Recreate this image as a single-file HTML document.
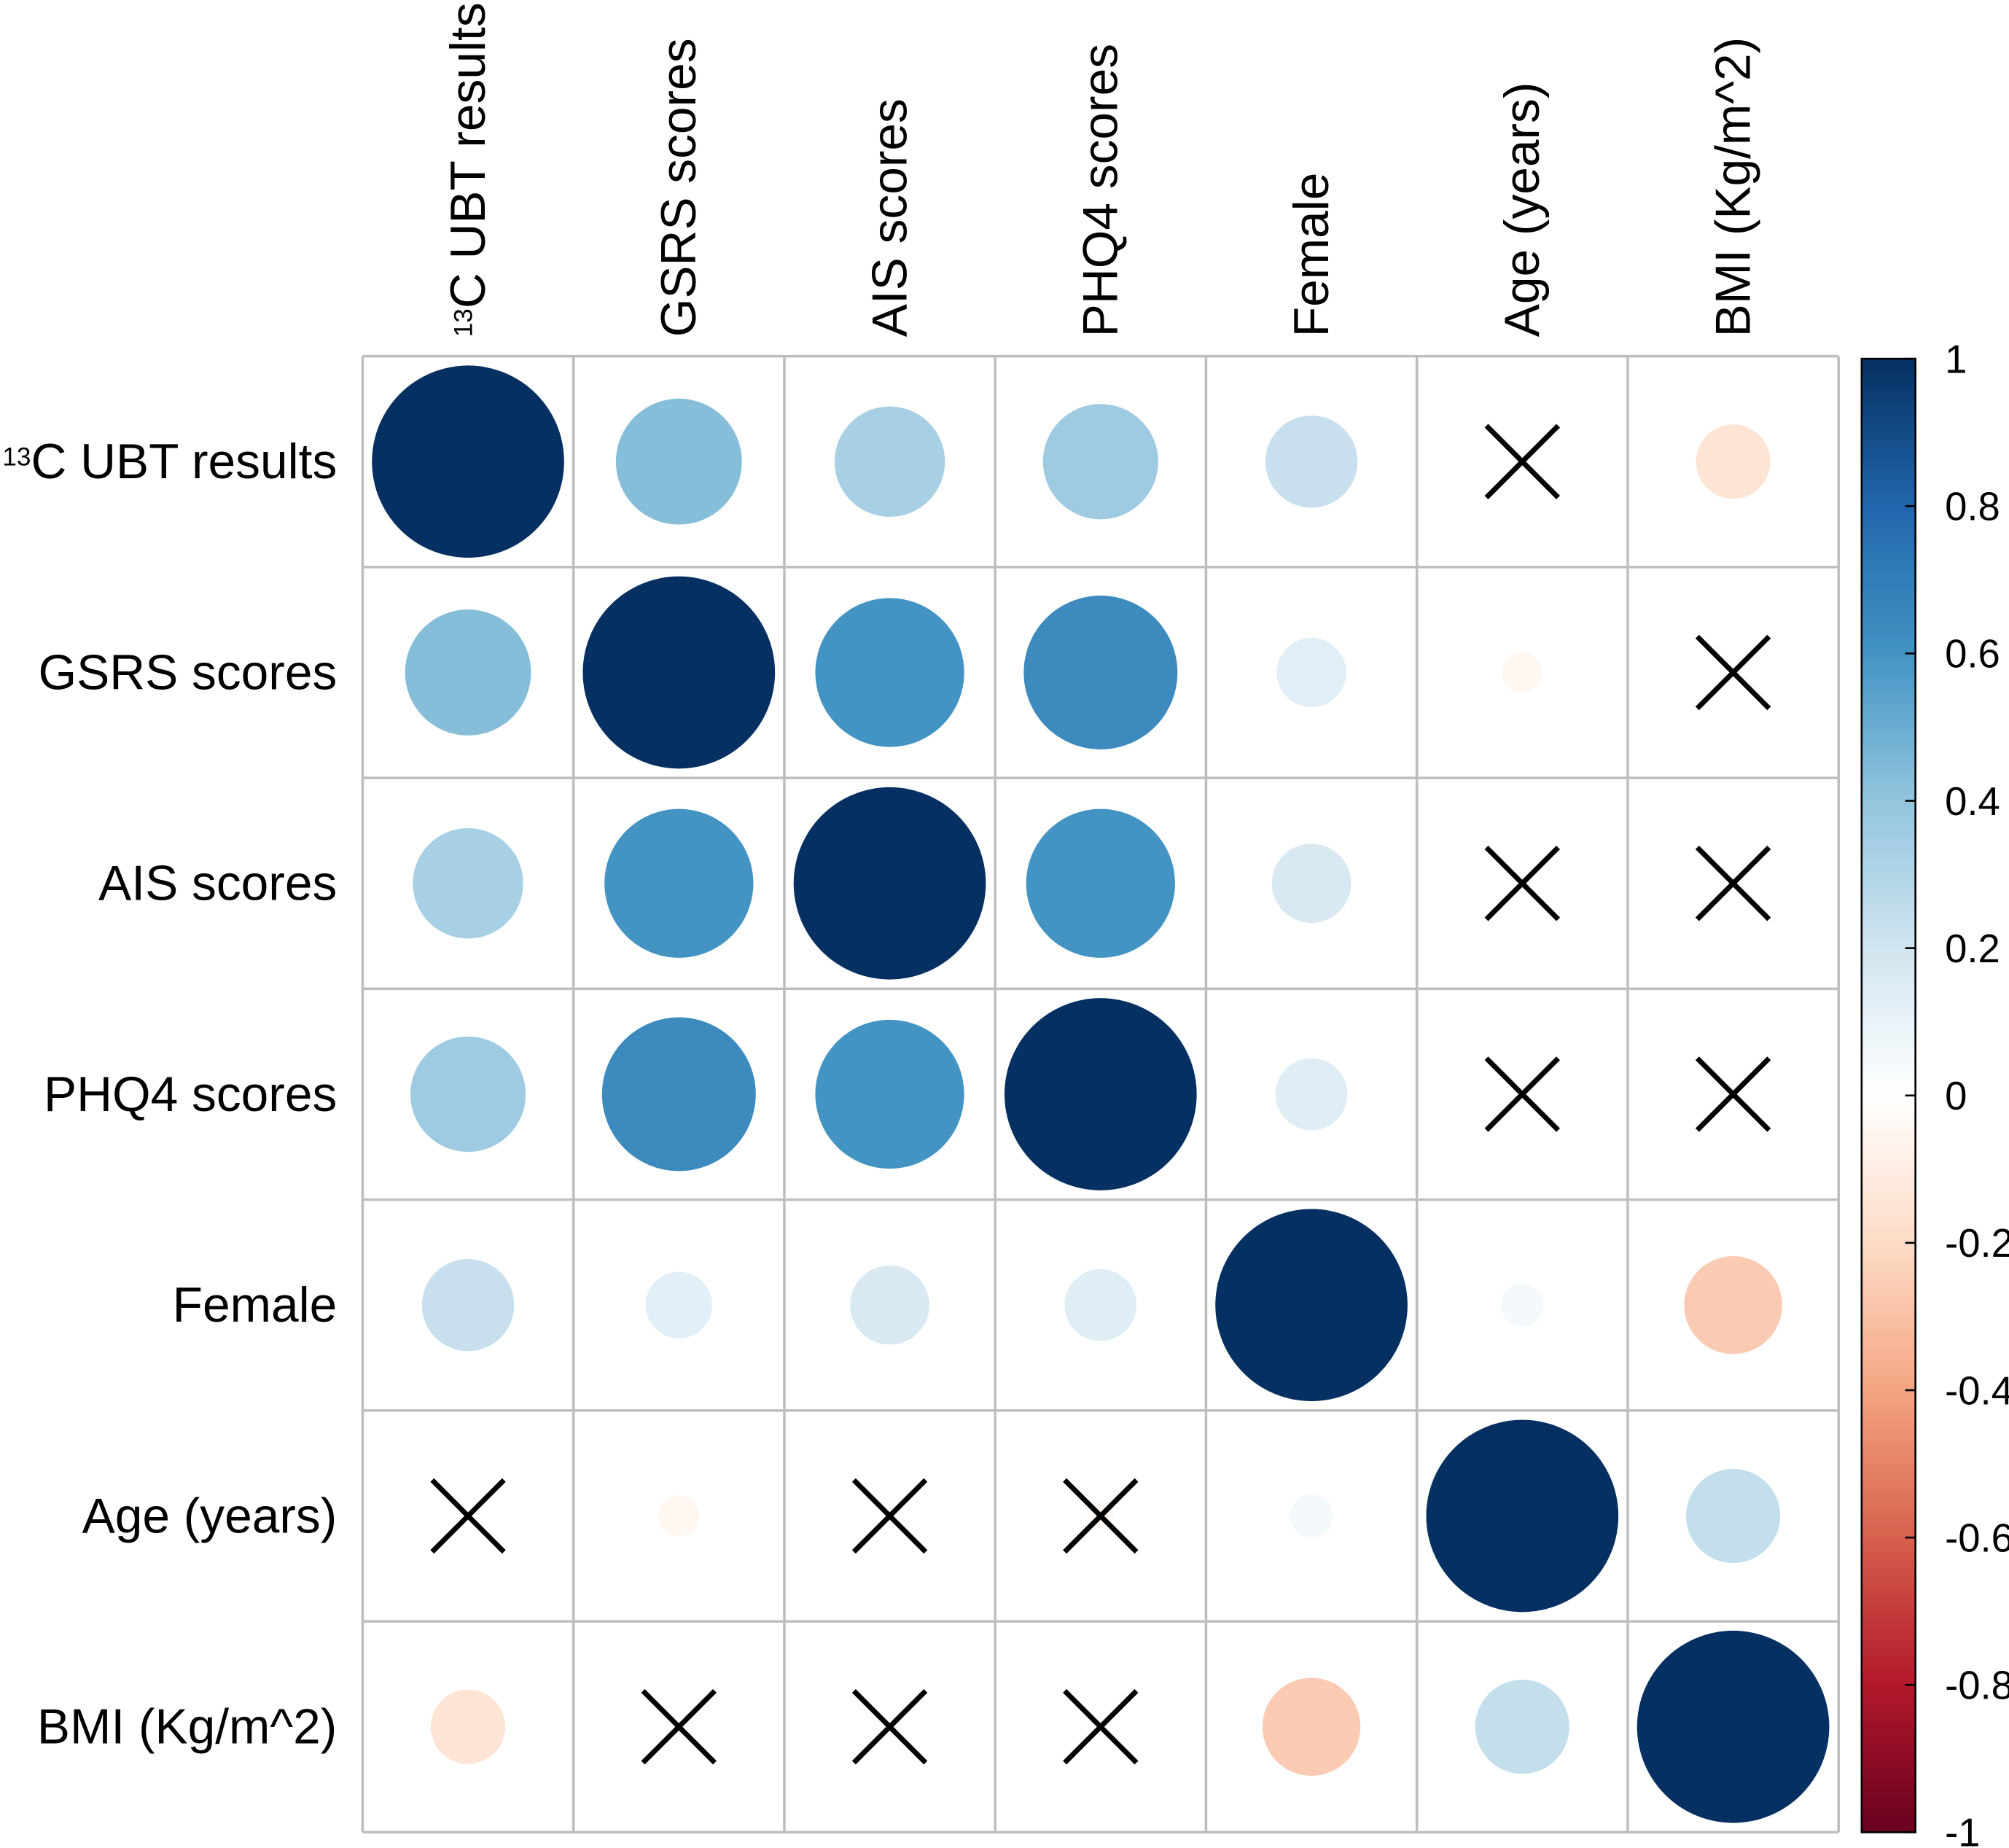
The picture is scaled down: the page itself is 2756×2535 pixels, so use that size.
<!DOCTYPE html>
<html><head><meta charset="utf-8"><style>
html,body{margin:0;padding:0;background:#fff;}
svg{display:block;}
text{font-family:"Liberation Sans",Arial,sans-serif;fill:#000;}
</style></head><body>
<svg id="chart" width="2756" height="2535" viewBox="0 0 1568 1442.3" xmlns="http://www.w3.org/2000/svg"></svg>
<script>
const labels = ["13C UBT results","GSRS scores","AIS scores","PHQ4 scores","Female","Age (years)","BMI (Kg/m^2)"];
const row0 = [1, 0.43, 0.33, 0.36, 0.23, 0.01, -0.15];
const row1 = [0.43, 1, 0.60, 0.64, 0.13, -0.045, 0.01];
const row2 = [0.33, 0.60, 1, 0.60, 0.17, 0.01, 0.01];
const row3 = [0.36, 0.64, 0.60, 1, 0.14, 0.01, 0.01];
const row4 = [0.23, 0.12, 0.17, 0.14, 1, 0.05, -0.26];
const row5 = [0.01, -0.045, 0.01, -0.02, 0.05, 1, 0.24];
const row6 = [-0.15, 0.01, -0.01, 0.01, -0.26, 0.24, 1];
const matrix = [row0,row1,row2,row3,row4,row5,row6];
const sig0 = [1,1,1,1,1,0,1];
const sig1 = [1,1,1,1,1,1,0];
const sig2 = [1,1,1,1,1,0,0];
const sig3 = [1,1,1,1,1,0,0];
const sig4 = [1,1,1,1,1,1,1];
const sig5 = [0,1,0,0,1,1,1];
const sig6 = [1,0,0,0,1,1,1];
const sigs = [sig0,sig1,sig2,sig3,sig4,sig5,sig6];
const colorTicks = ["1","0.8","0.6","0.4","0.2","0","-0.2","-0.4","-0.6","-0.8","-1"];

const NS="http://www.w3.org/2000/svg";
const svg=document.getElementById('chart');
const L=283,T=278,R=1435,B=1430,n=labels.length;
const cw=(R-L)/n, ch=(B-T)/n, maxR=75;
const pal=["#67001F","#B2182B","#D6604D","#F4A582","#FDDBC7","#FFFFFF","#D1E5F0","#92C5DE","#4393C3","#2166AC","#053061"];
function hex(h){return [1,3,5].map(i=>parseInt(h.substr(i,2),16));}
function color(v){const t=(v+1)/2*(pal.length-1);const i=Math.min(Math.floor(t),pal.length-2);const f=t-i;
 const a=hex(pal[i]),b=hex(pal[i+1]);return `rgb(${a.map((x,k)=>Math.round(x+(b[k]-x)*f)).join(',')})`;}
function mk(tag,attrs,parent){const e=document.createElementNS(NS,tag);for(const k in attrs)e.setAttribute(k,attrs[k]);(parent||svg).appendChild(e);return e;}
const xc=j=>L+cw*(j+0.5), yc=i=>T+ch*(i+0.5);

for(let k=0;k<=n;k++){
 const v=mk('line',{x1:L+cw*k,y1:T,x2:L+cw*k,y2:B,stroke:'#bebebe','stroke-width':2});
 
 
 const h=mk('line',{x1:L,y1:T+ch*k,x2:R,y2:T+ch*k,stroke:'#bebebe','stroke-width':2});
 
 
}
for(let i=0;i<n;i++)for(let j=0;j<n;j++){
 const v=matrix[i][j];
 const c=mk('circle',{cx:xc(j),cy:yc(i),r:maxR*Math.sqrt(Math.abs(v)),fill:color(v)});
 
 
 if(!sigs[i][j]){
  const g=mk('g',{stroke:'#000','stroke-width':4});
  
  
  const d=28;
  mk('line',{x1:xc(j)-d,y1:yc(i)-d,x2:xc(j)+d,y2:yc(i)+d},g);
  mk('line',{x1:xc(j)-d,y1:yc(i)+d,x2:xc(j)+d,y2:yc(i)-d},g);
 }
}
function setLabel(t,s){
 if(s.startsWith("13C")){
  const a=mk('tspan',{'font-size':20,dy:-10},t);a.textContent="13";
  const b=mk('tspan',{dy:10},t);b.textContent=s.slice(2);
 } else t.textContent=s;
}
labels.forEach((s,i)=>{
 const t=mk('text',{x:263,y:yc(i)+13,'font-size':38.5,'text-anchor':'end'});
 
 
 setLabel(t,s);
});
labels.forEach((s,j)=>{
 const x=xc(j)+13;
 const t=mk('text',{x:x,y:263,'font-size':38.5,'text-anchor':'start',transform:`rotate(-90 ${x} 263)`});
 
 
 setLabel(t,s);
});
const cbL=1453,cbR=1495,cbT=280,cbB=1430,steps=200;
for(let k=0;k<steps;k++){
 const v=1-2*(k+0.5)/steps;
 const r=mk('rect',{x:cbL,y:cbT+(cbB-cbT)*k/steps,width:cbR-cbL,height:(cbB-cbT)/steps+0.6,fill:color(v)});
 
 
}
const fr=mk('rect',{x:cbL,y:cbT,width:cbR-cbL,height:cbB-cbT,fill:'none',stroke:'#000','stroke-width':1.5});


colorTicks.forEach((s,k)=>{
 const y=cbT+(cbB-cbT)*k/(colorTicks.length-1);
 const tk=mk('line',{x1:cbR-8,y1:y,x2:cbR,y2:y,stroke:'#000','stroke-width':1.5});
 
 
 const t=mk('text',{x:1518,y:y+11,'font-size':31});
 
 
 t.textContent=s;
});
</script>
</body></html>
